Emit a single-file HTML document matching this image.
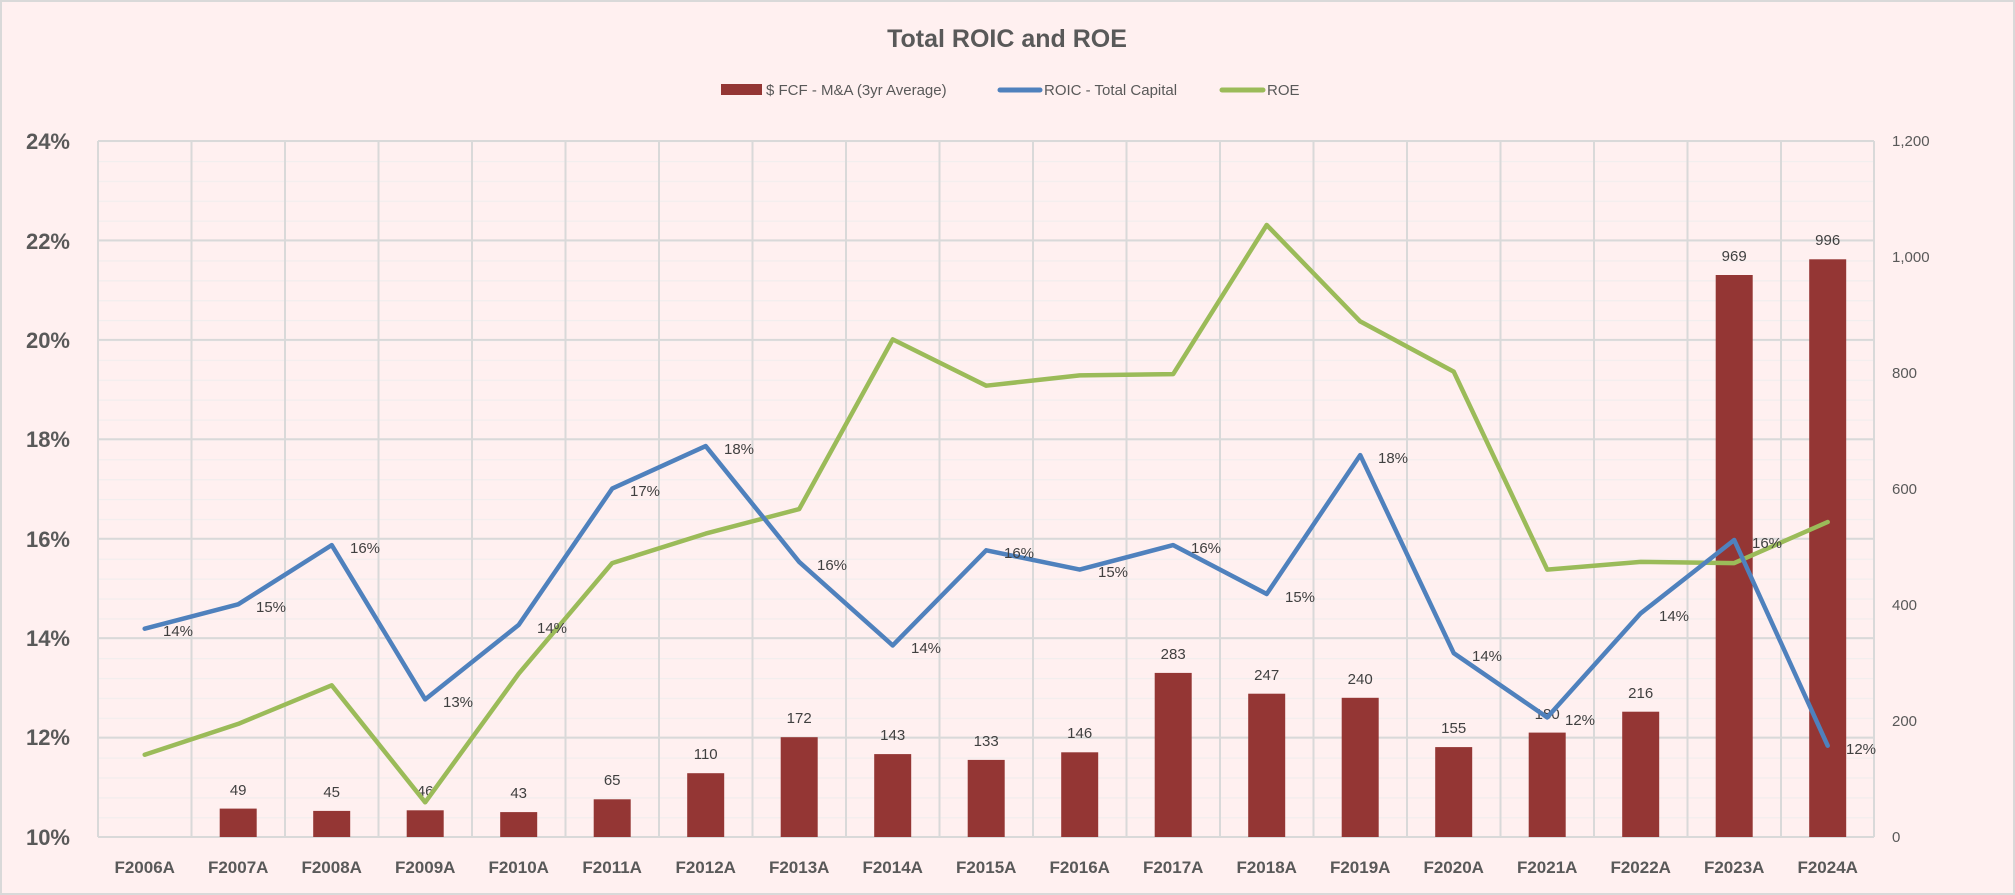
<!DOCTYPE html>
<html><head><meta charset="utf-8"><style>
html,body{margin:0;padding:0;background:#fff0f0;}
svg{display:block;font-family:"Liberation Sans",sans-serif;}
</style></head><body>
<svg width="2015" height="895" viewBox="0 0 2015 895" xmlns="http://www.w3.org/2000/svg">
<defs>
<pattern id="mg" x="98" y="141" width="93.5" height="19.886" patternUnits="userSpaceOnUse">
<line x1="0" y1="0.5" x2="93.5" y2="0.5" stroke="#f2eeee" stroke-width="1.5"/>
</pattern>
</defs>
<rect x="0" y="0" width="2015" height="895" fill="#fff0f0"/>
<rect x="1" y="1" width="2013" height="893" fill="none" stroke="#d9d9d9" stroke-width="2"/>
<text x="1007" y="47" text-anchor="middle" font-size="25" font-weight="bold" fill="#595959">Total ROIC and ROE</text>
<rect x="721" y="84" width="41" height="11" fill="#943634"/>
<text x="766" y="95" font-size="15" fill="#595959">$ FCF - M&amp;A (3yr Average)</text>
<line x1="1000" y1="90" x2="1040" y2="90" stroke="#4f81bd" stroke-width="5" stroke-linecap="round"/>
<text x="1044" y="95" font-size="15" fill="#595959">ROIC - Total Capital</text>
<line x1="1222" y1="90" x2="1263" y2="90" stroke="#9bbb59" stroke-width="5" stroke-linecap="round"/>
<text x="1267" y="95" font-size="15" fill="#595959">ROE</text>
<rect x="98" y="141" width="1776" height="696" fill="url(#mg)"/>
<g stroke="#d9d9d9" stroke-width="2">
<line x1="98" y1="837" x2="1874" y2="837"/><line x1="98" y1="737.6" x2="1874" y2="737.6"/><line x1="98" y1="638.1" x2="1874" y2="638.1"/><line x1="98" y1="538.7" x2="1874" y2="538.7"/><line x1="98" y1="439.3" x2="1874" y2="439.3"/><line x1="98" y1="339.9" x2="1874" y2="339.9"/><line x1="98" y1="240.4" x2="1874" y2="240.4"/><line x1="98" y1="141" x2="1874" y2="141"/>
<path d="M98 141V837M191.5 141V837M285 141V837M378.5 141V837M472 141V837M565.5 141V837M659 141V837M752.5 141V837M846 141V837M939.5 141V837M1033 141V837M1126.5 141V837M1220 141V837M1313.5 141V837M1407 141V837M1500.5 141V837M1594 141V837M1687.5 141V837M1781 141V837M1874 141V837"/>
</g>
<g font-size="22" font-weight="bold" fill="#595959" text-anchor="end">
<text x="70" y="845">10%</text><text x="70" y="745">12%</text><text x="70" y="646">14%</text><text x="70" y="547">16%</text><text x="70" y="447">18%</text><text x="70" y="348">20%</text><text x="70" y="249">22%</text><text x="70" y="149">24%</text>
</g>
<g font-size="15" fill="#595959">
<text x="1892" y="842">0</text><text x="1892" y="726">200</text><text x="1892" y="610">400</text><text x="1892" y="494">600</text><text x="1892" y="378">800</text><text x="1892" y="262">1,000</text><text x="1892" y="146">1,200</text>
</g>
<g font-size="17" font-weight="bold" fill="#595959" text-anchor="middle">
<text x="144.7" y="873">F2006A</text><text x="238.2" y="873">F2007A</text><text x="331.7" y="873">F2008A</text><text x="425.2" y="873">F2009A</text><text x="518.7" y="873">F2010A</text><text x="612.2" y="873">F2011A</text><text x="705.7" y="873">F2012A</text><text x="799.2" y="873">F2013A</text><text x="892.7" y="873">F2014A</text><text x="986.2" y="873">F2015A</text><text x="1079.7" y="873">F2016A</text><text x="1173.2" y="873">F2017A</text><text x="1266.7" y="873">F2018A</text><text x="1360.2" y="873">F2019A</text><text x="1453.7" y="873">F2020A</text><text x="1547.2" y="873">F2021A</text><text x="1640.7" y="873">F2022A</text><text x="1734.2" y="873">F2023A</text><text x="1827.7" y="873">F2024A</text>
</g>
<g fill="#943634">
<rect x="219.7" y="808.6" width="37" height="28.4"/><rect x="313.2" y="810.9" width="37" height="26.1"/><rect x="406.7" y="810.3" width="37" height="26.7"/><rect x="500.2" y="812.1" width="37" height="24.9"/><rect x="593.7" y="799.3" width="37" height="37.7"/><rect x="687.2" y="773.2" width="37" height="63.8"/><rect x="780.7" y="737.2" width="37" height="99.8"/><rect x="874.2" y="754.1" width="37" height="82.9"/><rect x="967.7" y="759.9" width="37" height="77.1"/><rect x="1061.2" y="752.3" width="37" height="84.7"/><rect x="1154.7" y="672.9" width="37" height="164.1"/><rect x="1248.2" y="693.7" width="37" height="143.3"/><rect x="1341.7" y="697.8" width="37" height="139.2"/><rect x="1435.2" y="747.1" width="37" height="89.9"/><rect x="1528.7" y="732.6" width="37" height="104.4"/><rect x="1622.2" y="711.7" width="37" height="125.3"/><rect x="1715.7" y="275" width="37" height="562"/><rect x="1809.2" y="259.3" width="37" height="577.7"/>
</g>
<g font-size="15" fill="#404040" text-anchor="middle">
<text x="238.2" y="795">49</text><text x="331.7" y="797">45</text><text x="425.2" y="796">46</text><text x="518.7" y="798">43</text><text x="612.2" y="785">65</text><text x="705.7" y="759">110</text><text x="799.2" y="723">172</text><text x="892.7" y="740">143</text><text x="986.2" y="746">133</text><text x="1079.7" y="738">146</text><text x="1173.2" y="659">283</text><text x="1266.7" y="680">247</text><text x="1360.2" y="684">240</text><text x="1453.7" y="733">155</text><text x="1547.2" y="719">180</text><text x="1640.7" y="698">216</text><text x="1734.2" y="261">969</text><text x="1827.7" y="245">996</text>
</g>
<polyline fill="none" stroke="#9bbb59" stroke-width="4.5" stroke-linejoin="round" stroke-linecap="round" points="144.7,754.7 238.2,723.9 331.7,685.3 425.2,802.3 518.7,673.7 612.2,563.1 705.7,533.6 799.2,509.1 892.7,339.4 986.2,385.7 1079.7,375.4 1173.2,374.1 1266.7,225 1360.2,321.4 1453.7,371.6 1547.2,569.6 1640.7,561.9 1734.2,563.1 1827.7,522"/>
<polyline fill="none" stroke="#4f81bd" stroke-width="4.5" stroke-linejoin="round" stroke-linecap="round" points="144.7,628.7 238.2,604.3 331.7,545.1 425.2,699.4 518.7,624.9 612.2,488.6 705.7,446.1 799.2,561.9 892.7,645.4 986.2,550.3 1079.7,569.6 1173.2,545.1 1266.7,594 1360.2,455.1 1453.7,653.1 1547.2,717.4 1640.7,613.3 1734.2,540 1827.7,745.7"/>
<g font-size="15" fill="#404040">
<text x="163" y="636">14%</text><text x="256" y="612">15%</text><text x="350" y="553">16%</text><text x="443" y="707">13%</text><text x="537" y="633">14%</text><text x="630" y="496">17%</text><text x="724" y="454">18%</text><text x="817" y="570">16%</text><text x="911" y="653">14%</text><text x="1004" y="558">16%</text><text x="1098" y="577">15%</text><text x="1191" y="553">16%</text><text x="1285" y="602">15%</text><text x="1378" y="463">18%</text><text x="1472" y="661">14%</text><text x="1565" y="725">12%</text><text x="1659" y="621">14%</text><text x="1752" y="548">16%</text><text x="1846" y="754">12%</text>
</g>
</svg>
</body></html>
